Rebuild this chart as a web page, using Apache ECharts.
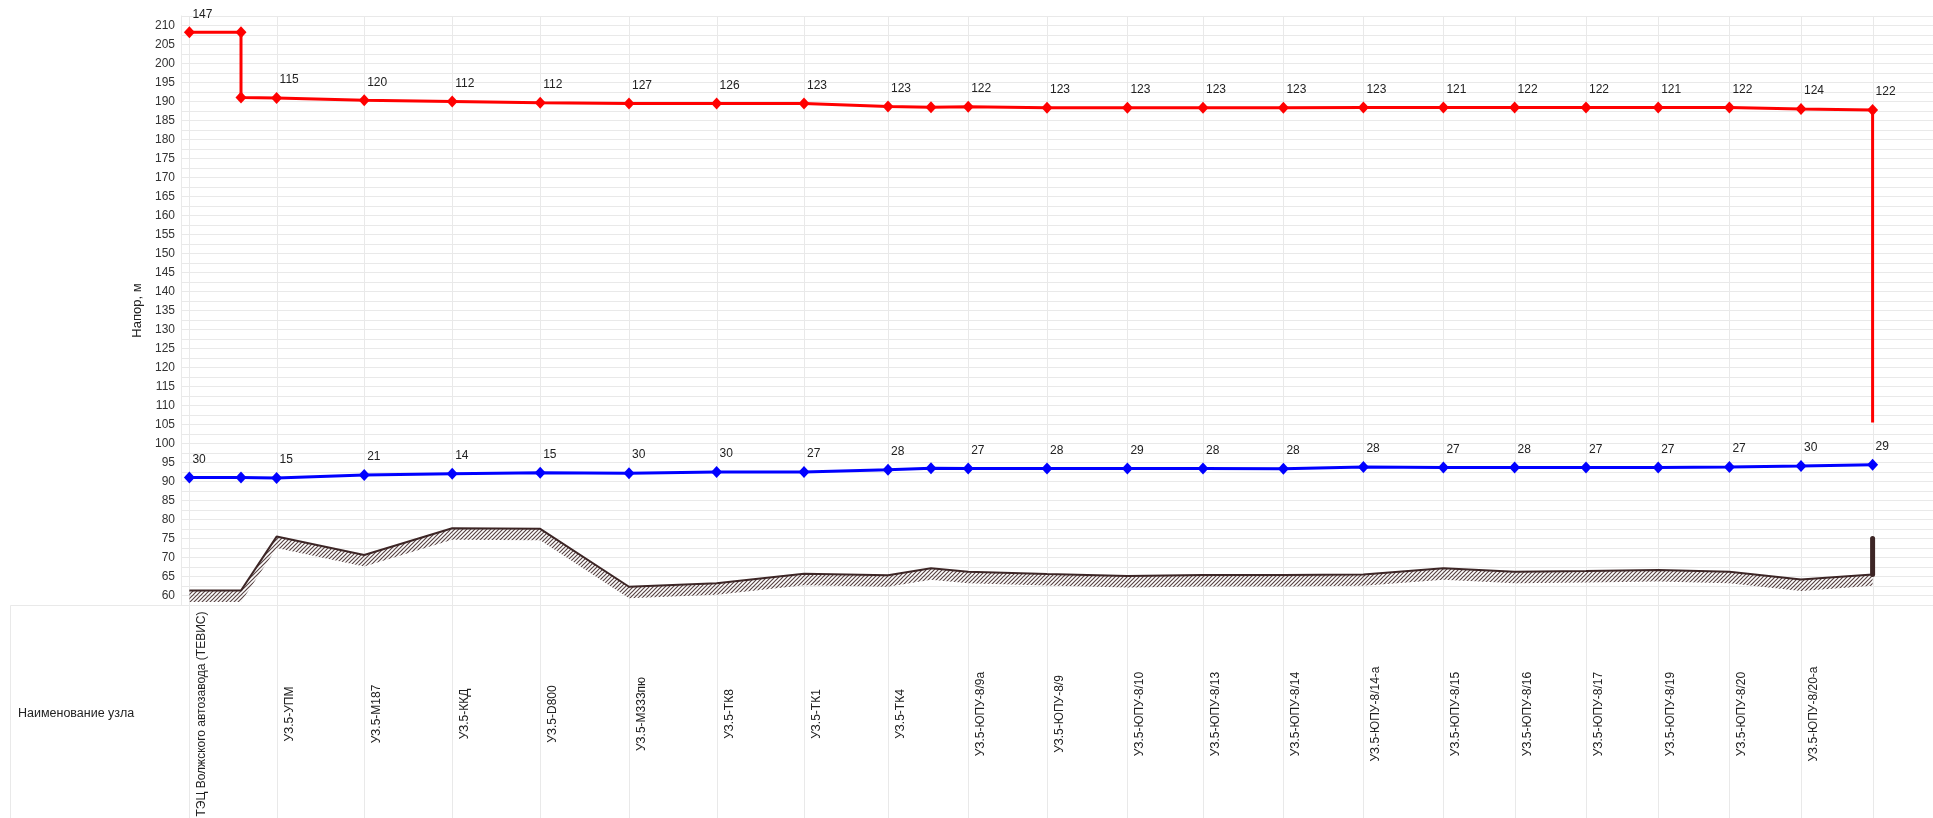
<!DOCTYPE html>
<html>
<head>
<meta charset="utf-8">
<script src="https://cdn.jsdelivr.net/npm/echarts@6/dist/echarts.min.js"></script>
<style>
  html, body { margin: 0; padding: 0; background: #fff; }
  #chart { width: 1933px; height: 818px; }
</style>
</head>
<body>
<div id="chart"></div>
<script>
// Node names along the route (the end node carries no name)
const nodeNames = [
  'ТЭЦ Волжского автозавода (ТЕВИС)', 'УЗ.5-УПМ', 'УЗ.5-М187', 'УЗ.5-ККД', 'УЗ.5-D800',
  'УЗ.5-М333пю', 'УЗ.5-ТК8', 'УЗ.5-ТК1', 'УЗ.5-ТК4', 'УЗ.5-ЮПУ-8/9а', 'УЗ.5-ЮПУ-8/9',
  'УЗ.5-ЮПУ-8/10', 'УЗ.5-ЮПУ-8/13', 'УЗ.5-ЮПУ-8/14', 'УЗ.5-ЮПУ-8/14-а', 'УЗ.5-ЮПУ-8/15',
  'УЗ.5-ЮПУ-8/16', 'УЗ.5-ЮПУ-8/17', 'УЗ.5-ЮПУ-8/19', 'УЗ.5-ЮПУ-8/20', 'УЗ.5-ЮПУ-8/20-а', ''
];
// Chainage of each node, m
const nodeDist = [42, 478, 916, 1356, 1796, 2240, 2678, 3115, 3535, 3936, 4330,
  4732, 5110, 5512, 5912, 6312, 6668, 7025, 7386, 7742, 8100, 8458];

// Supply line piezometric head, m (with the drop after the source and the end riser)
const supplyDist = [42, 300, 300, 478, 916, 1356, 1796, 2240, 2678, 3115, 3535, 3750, 3936,
  4330, 4732, 5110, 5512, 5912, 6312, 6668, 7025, 7386, 7742, 8100, 8458, 8458];
const supplyHead = [208.2, 208.2, 191.05, 190.9, 190.3, 190.0, 189.7, 189.45, 189.45, 189.45,
  188.7, 188.5, 188.6, 188.35, 188.35, 188.35, 188.35, 188.4, 188.4, 188.4, 188.4, 188.4,
  188.4, 188.0, 187.75, 105.5];
// Pressure values written at the supply line nodes
const supplyLabels = [147, 115, 120, 112, 112, 127, 126, 123, 123, 122, 123, 123, 123, 123,
  123, 121, 122, 122, 121, 122, 124, 122];

// Return line piezometric head, m
const returnDist = [42, 300, 478, 916, 1356, 1796, 2240, 2678, 3115, 3535, 3750, 3936, 4330,
  4732, 5110, 5512, 5912, 6312, 6668, 7025, 7386, 7742, 8100, 8458];
const returnHead = [91.05, 91.05, 90.95, 91.7, 92.05, 92.3, 92.2, 92.5, 92.5, 93.1, 93.5, 93.4,
  93.4, 93.4, 93.4, 93.35, 93.8, 93.7, 93.7, 93.7, 93.7, 93.8, 94.05, 94.4];
// Pressure values written at the return line nodes
const returnLabels = [30, 15, 21, 14, 15, 30, 30, 27, 28, 27, 28, 29, 28, 28, 28, 27, 28, 27,
  27, 27, 30, 29];

// Ground surface level, m
const groundDist = returnDist;
const groundLevel = [61.3, 61.3, 75.5, 70.65, 77.7, 77.55, 62.3, 63.2, 65.7, 65.3, 67.15, 66.25,
  65.65, 65.1, 65.4, 65.4, 65.55, 67.15, 66.25, 66.45, 66.7, 66.25, 64.2, 65.55];
// Building riser at the end node, m
const riserLevel = [65.55, 75.0];

// Axis range
const Y_MIN = 57.5, Y_MAX = 212.5, Y_STEP = 2.5;
const X_MAX = 8760;
const HATCH_DEPTH = 3;

const FONT = '"Liberation Sans", Arial, sans-serif';
const GRID_COLOR = '#e9e9e9';
const SOIL_COLOR = '#3d2626';

// Diagonal hatching for the soil band under the ground line
function hatchCanvas() {
  const c = document.createElement('canvas');
  c.width = 4; c.height = 4;
  const g = c.getContext('2d');
  g.strokeStyle = '#5a4545';
  g.lineWidth = 1.2;
  g.beginPath();
  g.moveTo(0, 4); g.lineTo(4, 0);
  g.moveTo(-1, 1); g.lineTo(1, -1);
  g.moveTo(3, 5); g.lineTo(5, 3);
  g.stroke();
  return c;
}
const hatch = hatchCanvas();

// Builds line points; the first point at each node gets its pressure label,
// a repeated point at the same node is drawn without a marker.
function profilePoints(dist, vals, labels) {
  const used = new Set();
  return dist.map((d, i) => {
    const item = { value: [d, vals[i]] };
    const k = nodeDist.indexOf(d);
    if (k >= 0 && !used.has(k)) {
      used.add(k);
      item.label = { show: true, formatter: String(labels[k]) };
    } else if (k >= 0) {
      item.symbol = 'none';
    }
    return item;
  });
}

const pointLabel = {
  show: false, position: 'top', distance: 0, align: 'left', offset: [3, -6],
  color: '#222', fontSize: 12, fontFamily: FONT
};

const chart = echarts.init(document.getElementById('chart'), null, { renderer: 'canvas' });
const CH = 818;

chart.setOption({
  animation: false,
  backgroundColor: '#fff',
  grid: { left: 181, right: 0, top: 16, bottom: 213, containLabel: false },
  xAxis: {
    type: 'value', min: 0, max: X_MAX,
    axisLine: { show: false }, axisTick: { show: false },
    axisLabel: { show: false }, splitLine: { show: false }
  },
  yAxis: {
    type: 'value', min: Y_MIN, max: Y_MAX, interval: Y_STEP,
    name: 'Напор, м', nameLocation: 'middle', nameRotate: 90, nameGap: 37,
    nameTextStyle: { color: '#222', fontSize: 13, fontFamily: FONT },
    axisLine: { show: true, lineStyle: { color: GRID_COLOR, width: 1 } },
    axisTick: { show: false },
    axisLabel: {
      color: '#333', fontSize: 12, fontFamily: FONT, margin: 6,
      formatter: v => (Math.abs(v % 5) < 1e-6 ? String(v) : '')
    },
    splitLine: { show: true, lineStyle: { color: GRID_COLOR, width: 1 } }
  },
  series: [
    {
      // node columns: vertical grid lines and the name table under the plot
      type: 'custom',
      silent: true,
      clip: false,
      z: 0,
      data: nodeDist.map(d => [d, Y_MIN]),
      renderItem: (params, api) => {
        const i = params.dataIndex;
        const top = api.coord([api.value(0), Y_MAX]);
        const bot = api.coord([api.value(0), Y_MIN]);
        const x = Math.round(top[0]) + 0.5;
        const children = [
          { type: 'line', shape: { x1: x, y1: top[1], x2: x, y2: CH },
            style: { stroke: GRID_COLOR, lineWidth: 1 } },
          { type: 'text', x: x + 12, y: bot[1] + 109, rotation: Math.PI / 2,
            style: { text: nodeNames[i], align: 'center', verticalAlign: 'middle',
              font: '12px ' + FONT, fill: '#222' } }
        ];
        if (i === 0) {
          const yb = Math.round(bot[1]) + 0.5;
          children.push(
            { type: 'line', shape: { x1: 10.5, y1: yb, x2: 1933, y2: yb },
              style: { stroke: GRID_COLOR, lineWidth: 1 } },
            { type: 'line', shape: { x1: 10.5, y1: yb, x2: 10.5, y2: CH },
              style: { stroke: GRID_COLOR, lineWidth: 1 } },
            { type: 'text', x: 18, y: bot[1] + 109,
              style: { text: 'Наименование узла', align: 'left', verticalAlign: 'middle',
                font: '12.5px ' + FONT, fill: '#222' } }
          );
        }
        return { type: 'group', children };
      }
    },
    {
      // hatched soil band under the ground line
      type: 'custom',
      silent: true,
      z: 1,
      data: [[groundDist[0], groundLevel[0]]],
      renderItem: (params, api) => {
        const upper = groundDist.map((d, i) => api.coord([d, groundLevel[i]]));
        const lower = groundDist.map((d, i) => api.coord([d, groundLevel[i] - HATCH_DEPTH])).reverse();
        return {
          type: 'polygon',
          shape: { points: upper.concat(lower) },
          style: { fill: { image: hatch, repeat: 'repeat' }, stroke: null }
        };
      }
    },
    {
      // ground line
      type: 'line', silent: true, z: 2,
      data: groundDist.map((d, i) => [d, groundLevel[i]]),
      symbol: 'none', lineStyle: { color: SOIL_COLOR, width: 2 }
    },
    {
      // riser at the end node
      type: 'line', silent: true, z: 2,
      data: riserLevel.map(v => [nodeDist[nodeDist.length - 1], v]),
      symbol: 'none', lineStyle: { color: SOIL_COLOR, width: 5, cap: 'round' }
    },
    {
      // return line
      type: 'line', z: 3,
      data: profilePoints(returnDist, returnHead, returnLabels),
      symbol: 'diamond', symbolSize: [11, 12],
      lineStyle: { color: '#0000ff', width: 3 }, itemStyle: { color: '#0000ff' },
      label: pointLabel
    },
    {
      // supply line
      type: 'line', z: 4,
      data: profilePoints(supplyDist, supplyHead, supplyLabels),
      symbol: 'diamond', symbolSize: [11, 12],
      lineStyle: { color: '#ff0000', width: 3 }, itemStyle: { color: '#ff0000' },
      label: pointLabel
    }
  ]
});
</script>
</body>
</html>
